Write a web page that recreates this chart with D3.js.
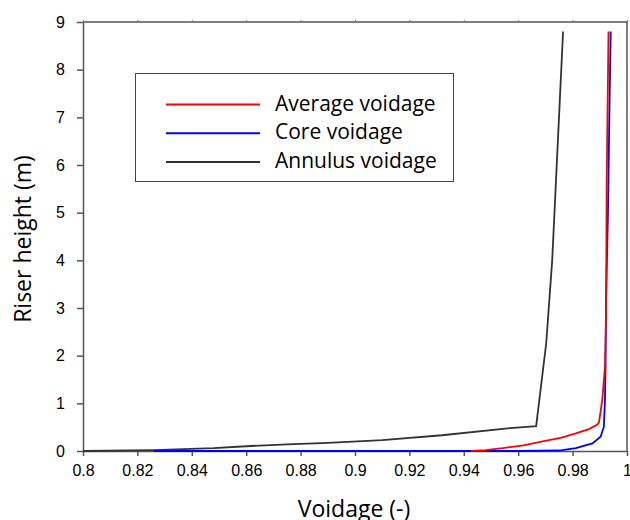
<!DOCTYPE html>
<html>
<head>
	<title>Riser voidage</title>
	<script src="https://cdn.jsdelivr.net/npm/d3@7/dist/d3.min.js"></script>
	<style>
		body { margin: 0; background: #fff; }
		.tick text { font-family: "Liberation Sans", Arial, sans-serif; font-size: 16px; fill: #000; }
		.title { font-family: "Open Sans", sans-serif; font-size: 23px; fill: #000; }
		.legend text { font-family: "Open Sans", sans-serif; font-size: 21px; fill: #000; }
	</style>
</head>
<body>
	<div id="chart"></div>
	<script type="text/javascript">

		// voidage (x) vs riser height (y) for each series
		var averageVoidage = [0.9426, 0.948, 0.9543, 0.962, 0.969, 0.976, 0.9812, 0.986, 0.989, 0.9897, 0.9909, 0.9919, 0.9923, 0.9925, 0.9932];
		var averageHeight  = [0, 0.02, 0.06, 0.12, 0.2, 0.28, 0.37, 0.46, 0.55, 0.6, 1.07, 1.77, 2.8, 5.47, 8.8];

		var coreVoidage = [0.826, 0.9, 0.96, 0.975, 0.9812, 0.9873, 0.9903, 0.9915, 0.9919, 0.9921, 0.9923, 0.993, 0.9935, 0.994];
		var coreHeight  = [0, 0, 0, 0.01, 0.06, 0.16, 0.3, 0.51, 1.07, 1.77, 3.17, 5, 7, 8.8];

		var annulusVoidage = [0.8, 0.826, 0.848, 0.86, 0.875, 0.89, 0.91, 0.932, 0.957, 0.9666, 0.9703, 0.9725, 0.9765];
		var annulusHeight  = [0, 0.02, 0.06, 0.1, 0.14, 0.17, 0.23, 0.33, 0.48, 0.52, 2.26, 4.0, 8.8];

		var xTicks = [0.8, 0.82, 0.84, 0.86, 0.88, 0.9, 0.92, 0.94, 0.96, 0.98, 1];
		var yTicks = [0, 1, 2, 3, 4, 5, 6, 7, 8, 9];

		var series = [
			{ name: "Average voidage", color: "#ff0000", x: averageVoidage, y: averageHeight },
			{ name: "Core voidage", color: "#0000ff", x: coreVoidage, y: coreHeight },
			{ name: "Annulus voidage", color: "#333333", x: annulusVoidage, y: annulusHeight }
		];

		var w = 630, h = 520;
		var margin = { left: 83, right: 3, top: 22, bottom: 69 };

		var svg = d3.select("#chart").append("svg")
			.attr("width", w)
			.attr("height", h);

		var x = d3.scaleLinear().domain([0.8, 1]).range([margin.left, w - margin.right]);
		var y = d3.scaleLinear().domain([0, 9]).range([h - margin.bottom, margin.top]);

		// frame (top and right)
		svg.append("path")
			.attr("d", "M" + x(0.8) + "," + y(9) + "H" + x(1) + "V" + y(0))
			.attr("fill", "none")
			.attr("stroke", "#555")
			.attr("stroke-width", 1.5);

		// small ticks on top edge
		svg.append("g")
			.attr("transform", "translate(0," + y(9) + ")")
			.call(d3.axisTop(x).tickValues(xTicks).tickSize(2).tickFormat(""))
			.call(function(g) { g.select(".domain").remove(); })
			.selectAll("line").attr("stroke", "#777");

		var xAxis = svg.append("g")
			.attr("transform", "translate(0," + y(0) + ")")
			.call(d3.axisBottom(x).tickValues(xTicks).tickSize(5).tickPadding(9).tickSizeOuter(0)
				.tickFormat(function(d) { return d3.format("")(+d.toFixed(2)); }));

		var yAxis = svg.append("g")
			.attr("transform", "translate(" + x(0.8) + ",0)")
			.call(d3.axisLeft(y).tickValues(yTicks).tickSize(6).tickPadding(12).tickSizeOuter(0));

		[xAxis, yAxis].forEach(function(g) {
			g.select(".domain").attr("stroke", "#555").attr("stroke-width", 1.5);
			g.selectAll(".tick line").attr("stroke", "#555").attr("stroke-width", 1.5);
		});

		var line = d3.line()
			.x(function(d) { return x(d[0]); })
			.y(function(d) { return y(d[1]); });

		// draw annulus first, then core, then average
		[series[2], series[1], series[0]].forEach(function(s) {
			svg.append("path")
				.datum(d3.zip(s.x, s.y))
				.attr("fill", "none")
				.attr("stroke", s.color)
				.attr("stroke-width", 1.8)
				.attr("d", line);
		});

		// legend
		var legend = svg.append("g").attr("class", "legend");
		legend.append("rect")
			.attr("x", 135.5).attr("y", 73.5)
			.attr("width", 318).attr("height", 108)
			.attr("fill", "#fff")
			.attr("stroke", "#444")
			.attr("stroke-width", 1);

		series.forEach(function(s, i) {
			var ly = 104.5 + i * 28.7;
			legend.append("line")
				.attr("x1", 166).attr("x2", 260)
				.attr("y1", ly).attr("y2", ly)
				.attr("stroke", s.color)
				.attr("stroke-width", 2);
			legend.append("text")
				.attr("x", 275).attr("y", ly + 6)
				.text(s.name);
		});

		// axis titles
		svg.append("text")
			.attr("class", "title")
			.attr("x", 354).attr("y", 517)
			.attr("text-anchor", "middle")
			.text("Voidage (-)");

		svg.append("text")
			.attr("class", "title")
			.attr("transform", "translate(31,239) rotate(-90)")
			.attr("text-anchor", "middle")
			.text("Riser height (m)");

	</script>
</body>
</html>
